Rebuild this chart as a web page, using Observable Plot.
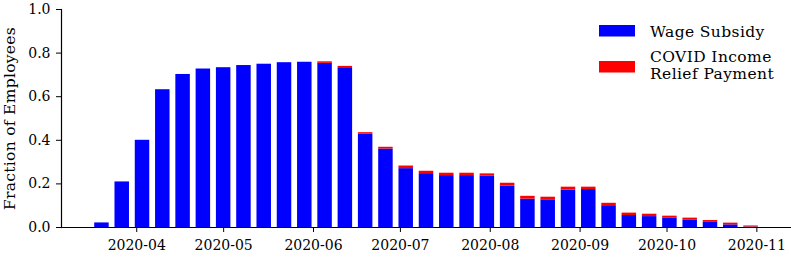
<!DOCTYPE html>
<html>
<head>
<meta charset="utf-8">
<script src="https://cdn.jsdelivr.net/npm/d3@7"></script>
<script src="https://cdn.jsdelivr.net/npm/@observablehq/plot@0.6"></script>
<style>
  html, body { margin: 0; padding: 0; background: #fff; }
  #chart { width: 791px; height: 257px; }
</style>
</head>
<body>
<div id="chart"></div>
<script>
// Weekly dates (bar centres)
const dates = [
  "2020-03-20","2020-03-27","2020-04-03","2020-04-10","2020-04-17","2020-04-24",
  "2020-05-01","2020-05-08","2020-05-15","2020-05-22","2020-05-29",
  "2020-06-05","2020-06-12","2020-06-19","2020-06-26",
  "2020-07-03","2020-07-10","2020-07-17","2020-07-24","2020-07-31",
  "2020-08-07","2020-08-14","2020-08-21","2020-08-28",
  "2020-09-04","2020-09-11","2020-09-18","2020-09-25",
  "2020-10-02","2020-10-09","2020-10-16","2020-10-23","2020-10-30"
];
// Fraction of employees on the Wage Subsidy
const wageSubsidy = [
  0.021, 0.209, 0.400, 0.632, 0.702, 0.727,
  0.733, 0.743, 0.749, 0.756, 0.758,
  0.753, 0.733, 0.429, 0.360,
  0.270, 0.247, 0.238, 0.238, 0.235,
  0.190, 0.130, 0.127, 0.172,
  0.174, 0.100, 0.055, 0.050,
  0.044, 0.035, 0.026, 0.012, 0.002
];
// Fraction of employees on the COVID Income Relief Payment
const covidRelief = [
  0.000, 0.000, 0.000, 0.000, 0.000, 0.000,
  0.000, 0.000, 0.000, 0.000, 0.000,
  0.007, 0.006, 0.006, 0.008,
  0.012, 0.011, 0.011, 0.011, 0.011,
  0.013, 0.013, 0.012, 0.013,
  0.011, 0.011, 0.011, 0.011,
  0.008, 0.008, 0.006, 0.008, 0.005
];
const seriesNames = ["Wage Subsidy", "COVID Income\nRelief Payment"];
const seriesColors = ["#0000ff", "#ff0000"];
const yTicks = [0, 0.2, 0.4, 0.6, 0.8, 1.0];
const xDomain = ["2020-03-06T01:00:00Z", "2020-11-12T23:00:00Z"];

const DAY = 864e5;
const halfWidth = 2.5 * DAY; // bar width of 5 days
const rows = dates.map((d, i) => {
  const t = new Date(d + "T00:00:00Z");
  return {
    x1: new Date(+t - halfWidth),
    x2: new Date(+t + halfWidth),
    wage: wageSubsidy[i],
    covid: covidRelief[i]
  };
});

const W = 791, H = 257;
const plot = Plot.plot({
  width: W,
  height: H,
  marginLeft: 61,
  marginRight: 0,
  marginTop: 9,
  marginBottom: 30,
  style: { fontFamily: "'DejaVu Serif', serif", fontSize: "14px", color: "#000", background: "#fff" },
  x: { type: "utc", domain: xDomain.map(s => new Date(s)) },
  y: { domain: [0, 1] },
  marks: [
    Plot.rect(rows, { x1: "x1", x2: "x2", y1: 0, y2: "wage", fill: seriesColors[0] }),
    Plot.rect(rows.filter(r => r.covid > 0), { x1: "x1", x2: "x2", y1: "wage", y2: d => d.wage + d.covid, fill: seriesColors[1] }),
    Plot.axisX({ ticks: d3.utcMonth.every(1), tickFormat: d3.utcFormat("%Y-%m"), tickSize: 5, tickPadding: 8, label: null, stroke: "#000", strokeWidth: 1 }),
    Plot.axisY({ ticks: yTicks, tickFormat: d3.format(".1f"), tickSize: 5, tickPadding: 6, label: "Fraction of Employees", labelAnchor: "center", labelArrow: "none", labelOffset: 58, stroke: "#000", strokeWidth: 1 }),
    Plot.ruleY([0], { stroke: "#000", strokeWidth: 1.2 }),
    Plot.frame({ anchor: "left", stroke: "#000", strokeWidth: 1.2 })
  ]
});
document.getElementById("chart").appendChild(plot);

const svg = d3.select(plot);
// Enlarge the y-axis label a little to match the reference
svg.selectAll("g[aria-label='y-axis label'] text")
  .attr("font-size", 15.5)
  .style("letter-spacing", "0.3px");

// Legend inside the SVG (top right)
const lg = svg.append("g")
  .attr("font-family", "'DejaVu Serif', serif")
  .attr("font-size", 15.5)
  .attr("text-anchor", "start");
const legendItems = [
  { name: seriesNames[0], color: seriesColors[0], py: 25, ty: [37] },
  { name: seriesNames[1], color: seriesColors[1], py: 61, ty: [62, 78.5] }
];
legendItems.forEach(it => {
  lg.append("rect").attr("x", 599).attr("y", it.py).attr("width", 36).attr("height", 11.5).attr("fill", it.color);
  const lines = it.name.split("\n");
  lines.forEach((ln, j) => {
    lg.append("text").attr("x", 650).attr("y", it.ty[j]).attr("fill", "#000")
      .attr("text-anchor", "start").style("letter-spacing", "0.4px").text(ln);
  });
});
</script>
</body>
</html>
